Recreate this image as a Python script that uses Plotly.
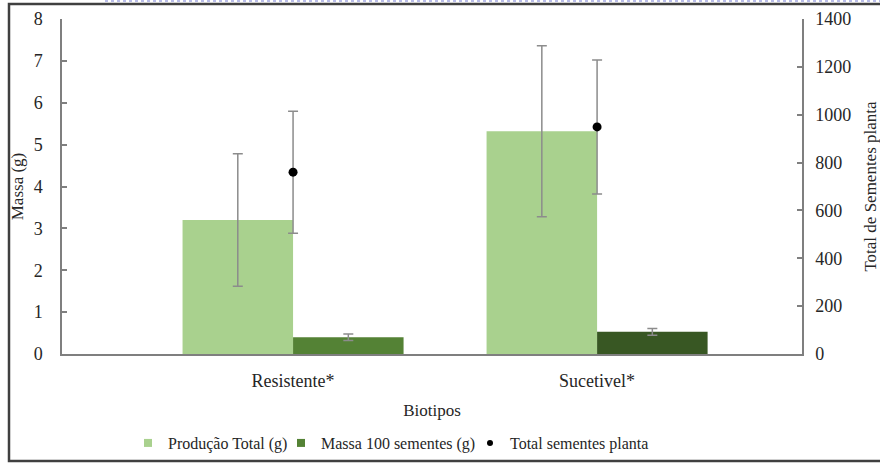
import plotly.graph_objects as go

# ---- data ----
categories = ["Resistente*", "Sucetivel*"]
producao_total = [3.2, 5.32]
producao_err = [1.58, 2.04]
massa_100 = [0.40, 0.53]
massa_err = [0.08, 0.08]
total_sementes = [760, 949]
total_sementes_err = [255, 280]

left_ticks = [0, 1, 2, 3, 4, 5, 6, 7, 8]
right_ticks = [0, 200, 400, 600, 800, 1000, 1200, 1400]

FONT = "Liberation Serif"
TXT = "#262626"
AXC = "#7f7f7f"
ERRC = "#8c8c8c"

fig = go.Figure()

fig.add_trace(go.Bar(
    x=categories, y=producao_total, name="Produção Total (g)",
    marker=dict(color="#A9D18E", line=dict(width=0)),
    error_y=dict(type="data", array=producao_err, color=ERRC, thickness=1.5, width=5),
    showlegend=False, offsetgroup="a",
))
fig.add_trace(go.Bar(
    x=categories, y=massa_100, name="Massa 100 sementes (g)",
    marker=dict(color=["#548235", "#385723"], line=dict(width=0)),
    error_y=dict(type="data", array=massa_err, color=ERRC, thickness=1.5, width=5),
    showlegend=False, offsetgroup="b",
))
fig.add_trace(go.Scatter(
    x=categories, y=total_sementes, name="Total sementes planta", yaxis="y2",
    mode="markers", marker=dict(color="black", size=9),
    error_y=dict(type="data", array=total_sementes_err, color=ERRC, thickness=1.5, width=5),
    showlegend=False,
))

# legend entries (one legend each, to place them like the reference)
fig.add_trace(go.Scatter(x=[None], y=[None], mode="markers", name="Produção Total (g)",
                         marker=dict(symbol="square", color="#A9D18E", size=8), legend="legend"))
fig.add_trace(go.Scatter(x=[None], y=[None], mode="markers", name="Massa 100 sementes (g)",
                         marker=dict(symbol="square", color="#548235", size=8), legend="legend2"))
fig.add_trace(go.Scatter(x=[None], y=[None], mode="markers", name="Total sementes planta",
                         marker=dict(symbol="circle", color="black", size=6), legend="legend3"))

leg_common = dict(orientation="h", xanchor="left", y=-0.215, yanchor="top",
                  font=dict(size=16), bgcolor="rgba(0,0,0,0)", itemwidth=30)

fig.update_layout(
    width=880, height=463,
    margin=dict(l=62, r=78, t=19, b=109, autoexpand=False),
    paper_bgcolor="white", plot_bgcolor="white",
    font=dict(family=FONT, size=18, color=TXT),
    barmode="group", bargap=0.273, bargroupgap=0,
    xaxis=dict(
        type="category", range=[-0.76, 1.674], automargin=False,
        showline=True, linecolor=AXC, linewidth=1.5,
        showgrid=False, ticks="", ticklabelstandoff=10,
        tickfont=dict(size=18),
        title=dict(text="Biotipos", font=dict(size=17), standoff=14),
        zeroline=False,
    ),
    yaxis=dict(
        range=[0, 8], tickvals=left_ticks, automargin=False,
        showline=True, linecolor=AXC, linewidth=1.5,
        ticks="inside", ticklen=5, tickcolor=AXC, tickwidth=1.5,
        showgrid=False, zeroline=False,
        ticklabelstandoff=14, tickfont=dict(size=18),
        title=dict(text="Massa (g)", font=dict(size=17), standoff=6),
    ),
    yaxis2=dict(
        range=[0, 1400], tickvals=right_ticks, overlaying="y", side="right",
        automargin=False,
        showline=True, linecolor=AXC, linewidth=1.5,
        ticks="inside", ticklen=5, tickcolor=AXC, tickwidth=1.5,
        showgrid=False, zeroline=False,
        ticklabelstandoff=8, tickfont=dict(size=18),
        title=dict(text="Total de Sementes planta", font=dict(size=17), standoff=14),
    ),
    legend=dict(x=(128 - 62) / 740, **leg_common),
    legend2=dict(x=(281 - 62) / 740, **leg_common),
    legend3=dict(x=(470 - 62) / 740, **leg_common),
    shapes=[
        dict(type="rect", xref="paper", yref="paper",
             x0=(9 - 62) / 740, x1=(900 - 62) / 740,
             y0=(354 - 461) / 335, y1=(354 - 4) / 335,
             line=dict(color="#404040", width=2.5), layer="below"),
        dict(type="line", xref="paper", yref="paper",
             x0=(105 - 62) / 740, x1=(880 - 62) / 740,
             y0=(354 - 1) / 335, y1=(354 - 1) / 335,
             line=dict(color="#b8bce8", width=2, dash="dot")),
    ],
)

fig.write_html("out.html", config={"displayModeBar": False},
               post_script="document.body.style.margin='0px';")
